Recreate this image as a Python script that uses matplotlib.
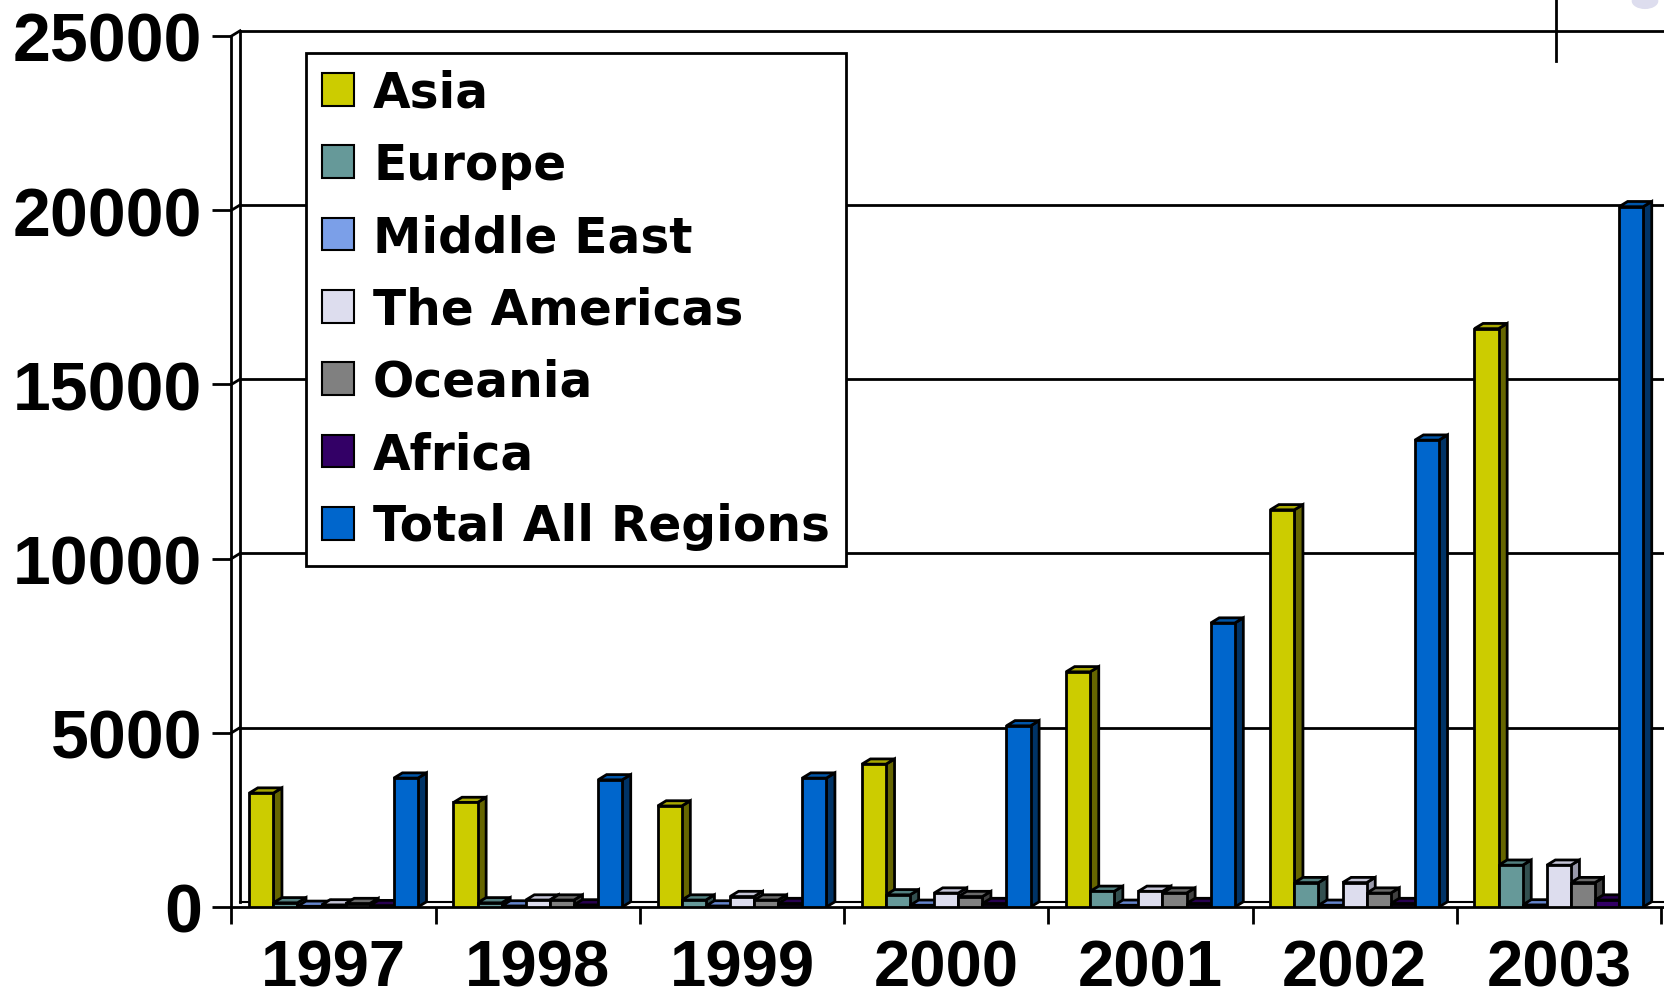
import matplotlib
matplotlib.use("Agg")

import matplotlib.pyplot as plt
from matplotlib.patches import Polygon, Patch, Circle
from matplotlib.lines import Line2D
import numpy as np

years = ["1997", "1998", "1999", "2000", "2001", "2002", "2003"]
regions = ["Asia", "Europe", "Middle East", "The Americas", "Oceania", "Africa", "Total All Regions"]

asia = [3270, 3000, 2900, 4100, 6750, 11400, 16600]
europe = [120, 120, 200, 350, 450, 700, 1200]
middle_east = [20, 30, 30, 50, 50, 50, 60]
americas = [60, 200, 300, 400, 450, 700, 1200]
oceania = [100, 200, 200, 300, 400, 400, 700]
africa = [40, 60, 100, 100, 100, 100, 200]
total = [3700, 3650, 3700, 5200, 8150, 13400, 20100]

series = [asia, europe, middle_east, americas, oceania, africa, total]
face_colors = ["#CCCC00", "#669999", "#7B9FE8", "#DDDDEE", "#808080", "#330066", "#0066CC"]
side_colors = ["#666600", "#335050", "#3D5090", "#9999AA", "#404040", "#1A0033", "#003366"]
top_colors = ["#A8A800", "#528080", "#6585CC", "#C4C4D6", "#6A6A6A", "#280050", "#0056AA"]

W, H = 1665, 1004
fig = plt.figure(figsize=(W / 100, H / 100), dpi=100)
ax = fig.add_axes([231.5 / W, 96 / H, 1 - 231.5 / W, 871 / H])

n = len(regions)
pitch = 0.118
width = 0.118
dx = 0.042     # depth offset in x (data units)
dy = 150       # depth offset in y (data units)
xmax = 6.52

ax.set_xlim(-0.5, xmax)
ax.set_ylim(0, 25000)

# back wall gridlines
for v in [5000, 10000, 15000, 20000, 25000]:
    ax.plot([-0.5 + dx, xmax], [v + dy, v + dy], color="black", lw=2, zorder=1, clip_on=False)
    ax.plot([-0.5, -0.5 + dx], [v, v + dy], color="black", lw=2, zorder=1, clip_on=False)
ax.plot([-0.5 + dx, -0.5 + dx], [dy, 25000 + dy], color="black", lw=2, zorder=1, clip_on=False)
ax.plot([-0.5 + dx, xmax], [dy, dy], color="black", lw=1.5, zorder=1)

x = np.arange(len(years))
for i, vals in enumerate(series):
    offs = (i - (n - 1) / 2) * pitch
    for xi, v in zip(x, vals):
        x0 = xi + offs - width / 2
        x1 = x0 + width
        z = 3 + i * 0.01 + xi
        ax.add_patch(Polygon([(x1, 0), (x1 + dx, dy), (x1 + dx, v + dy), (x1, v)],
                             closed=True, facecolor=side_colors[i], edgecolor="black",
                             lw=2, zorder=z, joinstyle="miter"))
        ax.add_patch(Polygon([(x0, v), (x0 + dx, v + dy), (x1 + dx, v + dy), (x1, v)],
                             closed=True, facecolor=top_colors[i], edgecolor="black",
                             lw=2, zorder=z, joinstyle="miter"))
    ax.bar(x + offs, vals, width=width, color=face_colors[i], edgecolor="black",
           linewidth=2, zorder=3 + i * 0.01 + x.max() + 1)

for s in ["top", "right"]:
    ax.spines[s].set_visible(False)
ax.spines["left"].set_linewidth(2)
ax.spines["bottom"].set_linewidth(2)

ax.set_yticks([0, 5000, 10000, 15000, 20000, 25000])
ax.set_yticklabels(["0", "5000", "10000", "15000", "20000", "25000"],
                   fontfamily="Liberation Sans", fontweight="bold", fontsize=49)
ax.tick_params(axis="y", length=14, width=2, pad=7)

ax.set_xticks(x)
ax.set_xticklabels(years, fontfamily="Liberation Sans", fontweight="bold", fontsize=47)
ax.tick_params(axis="x", length=0, pad=23)
ax.set_xticks(np.arange(-0.5, 7.0, 1), minor=True)
ax.tick_params(axis="x", which="minor", length=12, width=2)

handles = [Patch(facecolor=c, edgecolor="black", linewidth=1.5) for c in face_colors]
leg = fig.legend(handles, regions, loc="upper left",
                 bbox_to_anchor=(306 / W, 1 - 54 / H),
                 prop={"family": "DejaVu Sans", "weight": "bold", "size": 35},
                 frameon=True, fancybox=False, edgecolor="black", framealpha=1,
                 handlelength=0.66, handleheight=0.66, handletextpad=0.4,
                 labelspacing=0.5, borderpad=0.32, borderaxespad=0)
leg.get_frame().set_linewidth(2)
leg.set_zorder(20)

# stray marks at the top right of the original slide
fig.add_artist(Line2D([1556 / W, 1556 / W], [1, 1 - 62 / H], color="black", lw=2))
fig.add_artist(Circle((1645 / W, 1 - 2 / H), 0.008, transform=fig.transFigure,
                      facecolor="#DDDDEE", edgecolor="none"))

fig.savefig("out.png", dpi=100)
plt.close(fig)
